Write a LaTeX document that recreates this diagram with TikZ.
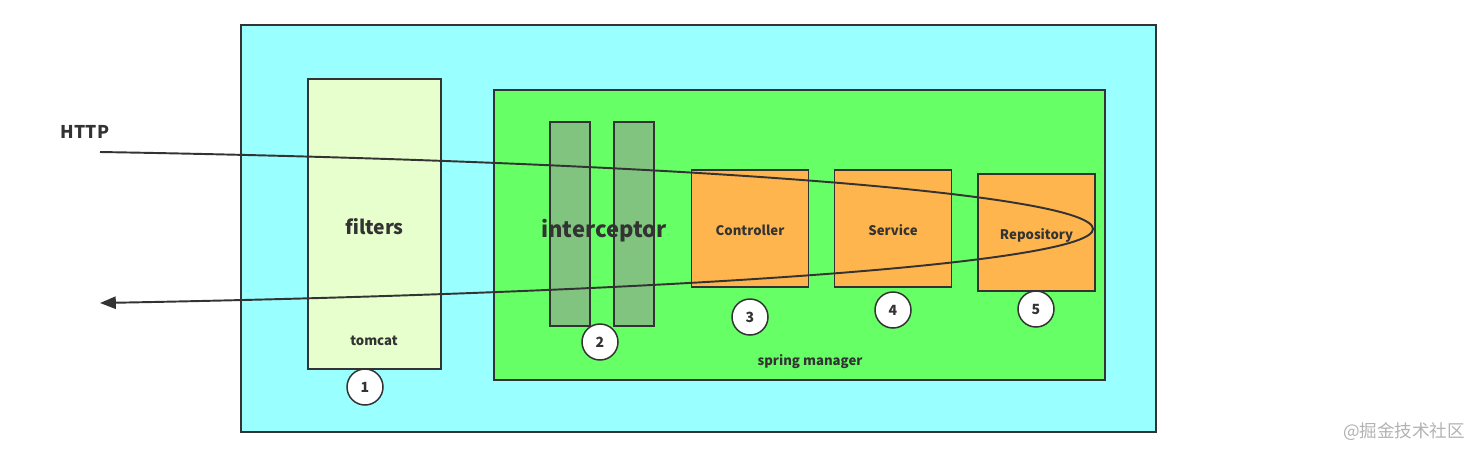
\documentclass[tikz,border=0pt]{standalone}
\usepackage{fontspec}
\setmainfont{Noto Sans CJK SC}
\usepackage{xcolor}
\usetikzlibrary{arrows.meta}
\def\unitpx{0.02cm}
\definecolor{linegray}{HTML}{333333}
\definecolor{tomcatbg}{HTML}{99FFFF}
\definecolor{filterbg}{HTML}{E6FFCC}
\definecolor{springbg}{HTML}{66FF66}
\definecolor{barbg}{HTML}{80C480}
\definecolor{beanbg}{HTML}{FFB54D}

\begin{document}
\begin{tikzpicture}[x=\unitpx, y=-\unitpx, line width=1.1pt, draw=linegray, text=linegray, font=\bfseries]
	\tikzstyle{box}=[draw, rectangle, inner sep=0pt]
	\tikzstyle{bar}=[box, fill=barbg, minimum width=40*\unitpx, minimum height=204*\unitpx]
	\tikzstyle{bean}=[box, fill=beanbg, minimum width=117*\unitpx, minimum height=117*\unitpx, text height=7.8pt, text depth=0pt, font=\bfseries\fontsize{7.5}{9}\selectfont]
	\tikzstyle{step circle}=[circle, draw, fill=white, line width=0.85pt, minimum size=36*\unitpx, inner sep=0pt, font=\bfseries\fontsize{8}{9}\selectfont]
	\tikzstyle{small label}=[font=\bfseries\fontsize{7.5}{9}\selectfont]
	\useasboundingbox (0,0) rectangle (1480,457);

	% Draw the tomcat container and the filters
	\node[box, fill=tomcatbg, minimum width=915*\unitpx, minimum height=407*\unitpx] (tomcat-box) at (698.5,228.5) {};
	\node[box, fill=filterbg, minimum width=133*\unitpx, minimum height=290*\unitpx, text height=12pt, text depth=0pt, font=\bfseries\fontsize{11}{13}\selectfont] (filters) at (374.5,224) {filters};
	\node[small label] (tomcat) at (374,341) {tomcat};

	% Draw the spring container
	\node[box, fill=springbg, minimum width=611*\unitpx, minimum height=290*\unitpx] (spring) at (799.5,235) {};
	\node[small label] (spring-label) at (810,362) {spring manager};

	% Draw the interceptor bars
	\node[bar] (I-1) at (570,224) {};
	\node[bar] (I-2) at (634,224) {};
	\node[font=\bfseries\fontsize{12.5}{15}\selectfont] (interceptor) at (604,231) {interceptor};

	% Draw the beans
	\node[bean] (controller) at (750,228.5) {Controller};
	\node[bean] (service) at (893,228.5) {Service};
	\node[bean] (repository) at (1036.5,232.5) {Repository};

	% The request goes in and comes back out
	\node[font=\bfseries\fontsize{10}{12}\selectfont] (http) at (85,132) {HTTP};
	\coordinate (http-in) at (100,152);
	\coordinate (turn) at (1093,229);
	\coordinate (http-out) at (100,303);
	\draw[-{Triangle[length=9pt,width=7pt]}] (http-in) .. controls (700,162) and (1093,195) .. (turn)
		.. controls (1093,262) and (700,292) .. (http-out);

	% Number the steps
	\foreach \name / \x / \y in {1/365/387, 2/600/342, 3/750/317, 4/893/310, 5/1036/309}
	\node[step circle] (S-\name) at (\x,\y) {\name};

	\node[text=black!30, font=\fontsize{10}{12}\selectfont] (mark) at (1404,432) {@掘金技术社区};
\end{tikzpicture}
\end{document}
